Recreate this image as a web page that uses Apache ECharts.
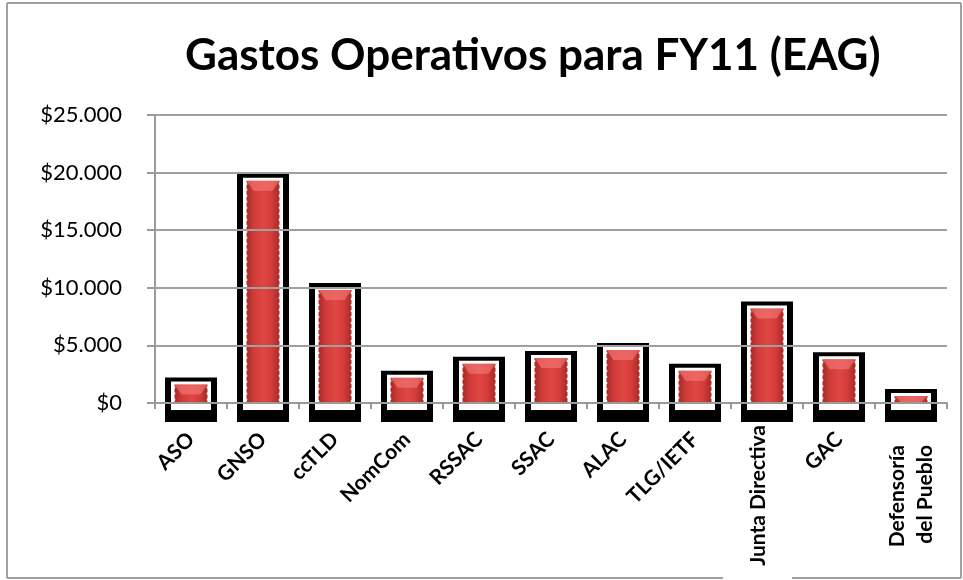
<!DOCTYPE html>
<html>
<head>
<meta charset="utf-8">
<script src="https://cdn.jsdelivr.net/npm/echarts@6/dist/echarts.min.js"></script>
<style>
  html, body { margin: 0; padding: 0; background: #fff; }
  #chart { width: 963px; height: 580px; }
</style>
</head>
<body>
<div id="chart"></div>
<script>
// datos
var categorias = ['ASO', 'GNSO', 'ccTLD', 'NomCom', 'RSSAC', 'SSAC', 'ALAC', 'TLG/IETF', 'Junta Directiva', 'GAC', 'Defensoría\ndel Pueblo'];
var gastos = [1600, 19300, 9800, 2200, 3400, 3900, 4600, 2800, 8200, 3800, 600];
var verticales = ['Junta Directiva', 'Defensoría\ndel Pueblo'];

var myChart = echarts.init(document.getElementById('chart'));

function fmtDolar(v) {
    return '$' + String(v).replace(/\B(?=(\d{3})+(?!\d))/g, '.');
}

var rojo = {
    type: 'linear', x: 0, y: 0, x2: 1, y2: 0,
    colorStops: [
        { offset: 0, color: '#a82826' },
        { offset: 0.22, color: '#d03b38' },
        { offset: 0.5, color: '#df4744' },
        { offset: 0.78, color: '#d03b38' },
        { offset: 1, color: '#a82826' }
    ]
};

function dibujarBarra(params, api) {
    var idx = api.value(0);
    var top = api.coord([idx, api.value(1)]);
    var base = api.coord([idx, 0]);
    var cx = top[0];
    var rw = 33, ww = 40, bw = 52;
    var h = base[1] - top[1];
    return {
        type: 'group',
        children: [
            { type: 'rect', shape: { x: cx - bw / 2, y: top[1] - 7, width: bw, height: h + 26 }, style: { fill: '#000' } },
            { type: 'rect', shape: { x: cx - ww / 2, y: top[1] - 3, width: ww, height: h + 10 }, style: { fill: '#fff' } },
            { type: 'rect', shape: { x: cx - rw / 2, y: top[1], width: rw, height: h }, style: { fill: rojo } },
            { type: 'polygon', shape: { points: [[cx - rw / 2, top[1]], [cx + rw / 2, top[1]], [cx + rw / 2 - 7, top[1] + Math.min(10, h)], [cx - rw / 2 + 7, top[1] + Math.min(10, h)]] },
              style: { fill: 'rgba(245,125,120,0.6)' } },
            { type: 'line', shape: { x1: cx - rw / 2, y1: top[1] + 2, x2: cx - rw / 2, y2: base[1] }, style: { stroke: '#fff', lineWidth: 1.5, lineDash: [2, 4] } },
            { type: 'line', shape: { x1: cx + rw / 2, y1: top[1] + 2, x2: cx + rw / 2, y2: base[1] }, style: { stroke: '#fff', lineWidth: 1.5, lineDash: [2, 4] } }
        ]
    };
}

var fuente = 'Lato, "Open Sans", sans-serif';
var gris = '#a0a0a0';

var option = {
    animation: false,
    title: {
        text: 'Gastos Operativos para FY11 (EAG)',
        left: 180,
        top: 29,
        textStyle: { fontFamily: fuente, fontSize: 44, fontWeight: 'bold', color: '#000' }
    },
    graphic: [
        { type: 'line', shape: { x1: 7, y1: 3, x2: 961, y2: 3 }, style: { stroke: gris, lineWidth: 2 } },
        { type: 'line', shape: { x1: 7, y1: 3, x2: 7, y2: 578 }, style: { stroke: gris, lineWidth: 2 } },
        { type: 'line', shape: { x1: 961, y1: 3, x2: 961, y2: 578 }, style: { stroke: gris, lineWidth: 2 } },
        { type: 'line', shape: { x1: 7, y1: 578, x2: 723, y2: 578 }, style: { stroke: gris, lineWidth: 2 } },
        { type: 'line', shape: { x1: 792, y1: 578, x2: 961, y2: 578 }, style: { stroke: gris, lineWidth: 2 } }
    ],
    grid: { left: 155, right: 16, top: 115, bottom: 177 },
    xAxis: [{
        type: 'category',
        data: categorias,
        z: 5,
        axisLine: { lineStyle: { color: '#9a9a9a', width: 2 } },
        axisTick: { show: true, length: 6, lineStyle: { color: '#9a9a9a', width: 2 } },
        axisLabel: {
            interval: 0, rotate: 45, margin: 33,
            fontFamily: fuente, fontSize: 21, fontWeight: 'bold', color: '#000',
            formatter: function (v) { return verticales.indexOf(v) >= 0 ? '' : v; }
        }
    }, {
        type: 'category',
        data: categorias,
        position: 'bottom',
        axisLine: { show: false },
        axisTick: { show: false },
        axisLabel: {
            interval: 0, rotate: 90, margin: 22,
            fontFamily: fuente, fontSize: 21, fontWeight: 'bold', color: '#000', lineHeight: 28,
            align: 'right',
            formatter: function (v) {
                if (v === 'Junta Directiva') return '{j|' + v + '}';
                if (v === 'Defensoría\ndel Pueblo') return '{d|Defensoría}\n{d|del Pueblo}';
                return '';
            },
            rich: {
                j: { fontFamily: fuente, fontSize: 21, fontWeight: 'bold', color: '#000', padding: [0, 0, 18, 0] },
                d: { fontFamily: fuente, fontSize: 21, fontWeight: 'bold', color: '#000', lineHeight: 28, padding: [0, 20, 0, 0] }
            }
        }
    }],
    yAxis: {
        type: 'value',
        min: 0, max: 25000, interval: 5000,
        z: 5,
        axisLine: { show: true, lineStyle: { color: '#9a9a9a', width: 2 } },
        axisTick: { show: true, length: 8, lineStyle: { color: '#9a9a9a', width: 2 } },
        splitLine: { lineStyle: { color: gris, width: 2 } },
        axisLabel: { margin: 33, fontFamily: fuente, fontSize: 22, color: '#000', formatter: fmtDolar }
    },
    series: [{
        type: 'custom',
        name: 'Gastos',
        z: 1,
        clip: false,
        renderItem: dibujarBarra,
        encode: { x: 0, y: 1 },
        data: gastos.map(function (v, i) { return [i, v]; })
    }]
};
myChart.setOption(option);
</script>
</body>
</html>
